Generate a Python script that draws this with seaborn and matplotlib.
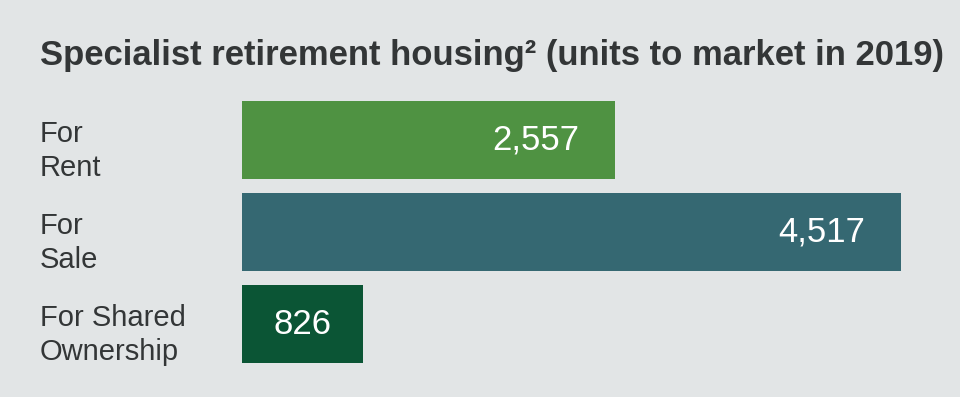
import numpy as np
import pandas as pd
import matplotlib
matplotlib.use("Agg")
import matplotlib.pyplot as plt
import matplotlib.transforms as mtransforms
import seaborn as sns

# Data
categories = ["For\nRent", "For\nSale", "For Shared\nOwnership"]
units = [2557, 4517, 826]
value_labels = ["2,557", "4,517", "826"]
bar_colors = ["#4f9242", "#356872", "#0b5535"]

BG = "#e2e5e6"
TXT = "#333637"

sns.set_theme(style="white")
plt.rcParams["font.family"] = ["Liberation Sans", "DejaVu Sans"]

df = pd.DataFrame({"category": categories, "units": units})

fig = plt.figure(figsize=(9.6, 3.97), dpi=100, facecolor=BG)
ax = fig.add_axes([242 / 960, 27 / 397, 659 / 960, 276 / 397])
ax.set_facecolor(BG)

sns.barplot(data=df, x="units", y="category", hue="category", palette=bar_colors,
            orient="h", width=0.85, legend=False, ax=ax, saturation=1, linewidth=0)

ax.set_xlim(0, max(units))
ax.set_ylim(2.5, -0.5)
ax.set_xlabel("")
ax.set_ylabel("")
ax.set_xticks([])
ax.set_yticks([])
for s in ax.spines.values():
    s.set_visible(False)

# category labels at left edge of figure
trans = mtransforms.blended_transform_factory(fig.transFigure, ax.transData)
for i, cat in enumerate(categories):
    ax.text(40 / 960, i + 0.12, cat, transform=trans, ha="left", va="center",
            fontsize=21, color=TXT, linespacing=1.25)

# value labels inside bars
for i, (v, lab) in enumerate(zip(units, value_labels)):
    if v < 1500:
        ax.text(v / 2, i, lab, ha="center", va="center", fontsize=25, color="white")
    else:
        t = mtransforms.offset_copy(ax.transData, fig=fig, x=-36, y=0, units="dots")
        ax.text(v, i, lab, transform=t, ha="right", va="center", fontsize=25, color="white")

fig.text(40 / 960, 1 - 56 / 397, "Specialist retirement housing² (units to market in 2019)",
         ha="left", va="center", fontsize=24.9, fontweight="bold", color=TXT)

fig.savefig("out.png", dpi=100, facecolor=BG)
